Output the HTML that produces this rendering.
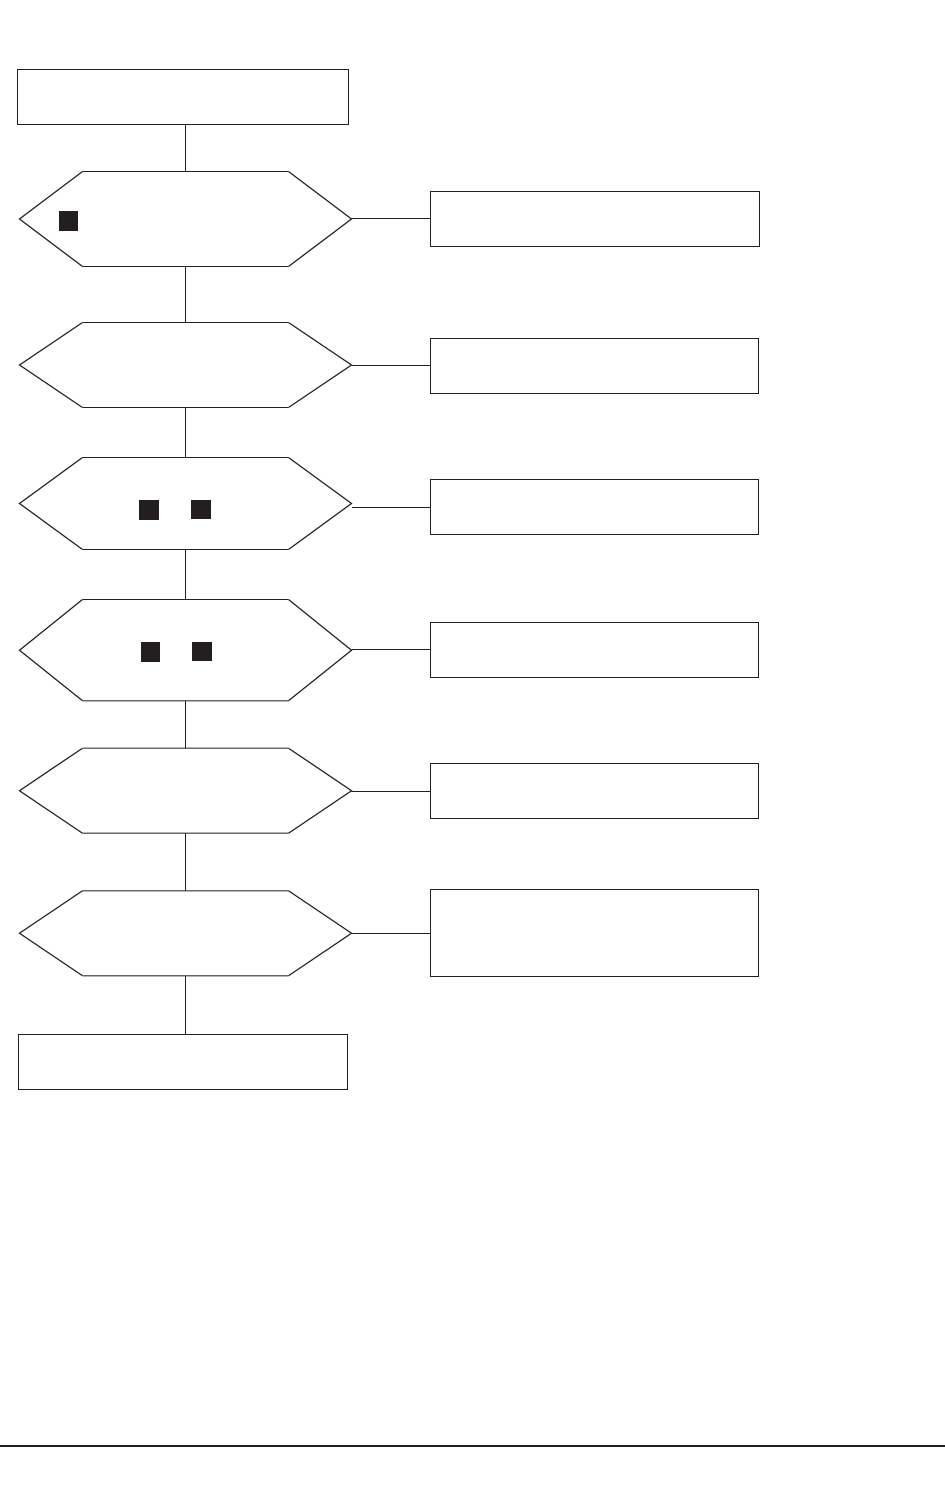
<!DOCTYPE html>
<html><head><meta charset="utf-8"><style>
html,body{margin:0;padding:0;background:#fff;}
body{width:945px;height:1499px;overflow:hidden;position:relative;font-family:"Liberation Sans",sans-serif;}
svg{position:absolute;left:0;top:0;display:block;}
</style></head><body>
<svg width="945" height="1499" viewBox="0 0 945 1499">
<g fill="none" stroke="#231f20" stroke-width="1">
<rect x="17.5" y="69.5" width="331" height="55"/>
<line x1="185.5" y1="124.5" x2="185.5" y2="171.5"/>
<line x1="185.5" y1="266.5" x2="185.5" y2="322.5"/>
<line x1="185.5" y1="407.5" x2="185.5" y2="457.5"/>
<line x1="185.5" y1="549.5" x2="185.5" y2="599.5"/>
<line x1="185.5" y1="700.83" x2="185.5" y2="748.17"/>
<line x1="185.5" y1="833.17" x2="185.5" y2="890.83"/>
<line x1="185.5" y1="975.83" x2="185.5" y2="1034.5"/>
<path d="M82.5,171.5 H288.5 M82.5,266.5 H288.5"/>
<path d="M82.5,322.5 H288.5 M82.5,407.5 H288.5"/>
<path d="M82.5,457.5 H288.5 M82.5,549.5 H288.5"/>
<path d="M82.5,599.5 H288.5 M82.5,700.83 H288.5"/>
<path d="M82.5,748.17 H288.5 M82.5,833.17 H288.5"/>
<path d="M82.5,890.83 H288.5 M82.5,975.83 H288.5"/>
<line x1="351.5" y1="218.5" x2="430.5" y2="218.5"/>
<line x1="351.5" y1="365.5" x2="430.5" y2="365.5"/>
<line x1="352" y1="507.5" x2="430.5" y2="507.5"/>
<line x1="351.5" y1="649.5" x2="430.5" y2="649.5"/>
<line x1="351.5" y1="791.5" x2="430.5" y2="791.5"/>
<line x1="351.5" y1="933.5" x2="430.5" y2="933.5"/>
<rect x="430.5" y="191.5" width="329" height="55"/>
<rect x="430.5" y="338.5" width="328" height="55"/>
<rect x="430.5" y="479.5" width="328" height="55"/>
<rect x="430.5" y="622.5" width="328" height="55"/>
<rect x="430.5" y="763.5" width="328" height="55"/>
<rect x="430.5" y="889.5" width="328" height="87"/>
<rect x="18.5" y="1034.5" width="329" height="55"/>
</g>
<g fill="none" stroke="#231f20" stroke-width="1.3" stroke-linejoin="miter">
<path d="M82.5,171.5 L19.5,219 L82.5,266.5 M288.5,171.5 L351.5,219 L288.5,266.5"/>
<path d="M82.5,322.5 L19.5,365 L82.5,407.5 M288.5,322.5 L351.5,365 L288.5,407.5"/>
<path d="M82.5,457.5 L19.5,503.5 L82.5,549.5 M288.5,457.5 L351.5,503.5 L288.5,549.5"/>
<path d="M82.5,599.5 L19.5,650.165 L82.5,700.83 M288.5,599.5 L351.5,650.165 L288.5,700.83"/>
<path d="M82.5,748.17 L19.5,790.67 L82.5,833.17 M288.5,748.17 L351.5,790.67 L288.5,833.17"/>
<path d="M82.5,890.83 L19.5,933.33 L82.5,975.83 M288.5,890.83 L351.5,933.33 L288.5,975.83"/>
</g>
<g fill="#231f20">
<rect x="59" y="211" width="19" height="20"/>
<rect x="139" y="500" width="20" height="20"/>
<rect x="191" y="500" width="20" height="19"/>
<rect x="141" y="642" width="19" height="20"/>
<rect x="192" y="642" width="20" height="19"/>
</g>
<rect x="0" y="1445" width="945" height="2" fill="#231f20"/>
</svg>
</body></html>
